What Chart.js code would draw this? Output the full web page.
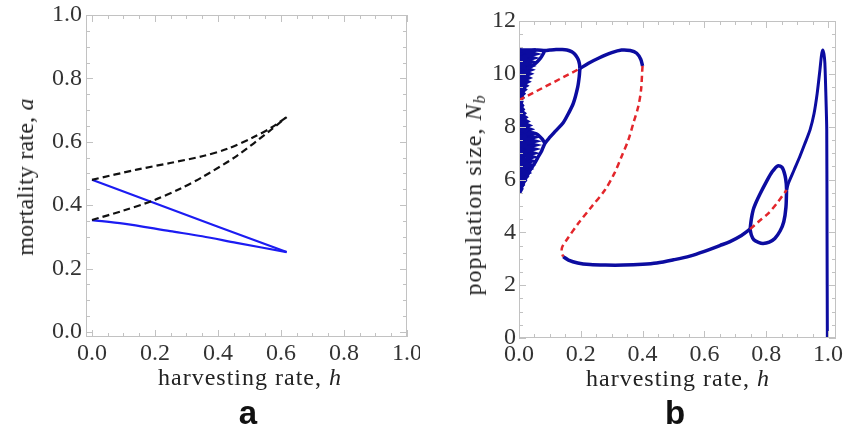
<!DOCTYPE html>
<html>
<head>
<meta charset="utf-8">
<title>Mortality and population size vs harvesting rate</title>
<script src="https://cdn.jsdelivr.net/npm/chart.js@4.4.1/dist/chart.umd.min.js"></script>
<style>
    html, body { margin: 0; padding: 0; background: #fff; }
    #wrap { position: relative; width: 845px; height: 425px; overflow: hidden; font-family: "Liberation Serif", serif; color: #222; }
    .panel { position: absolute; top: 0; height: 425px; }
    #panelA { left: 0; width: 420px; }
    #panelB { left: 420px; width: 425px; }
    .title { position: absolute; white-space: nowrap; font-size: 24px; line-height: 1; letter-spacing: 1px; transform: translate(-50%, -50%); }
    .title.rot { transform: translate(-50%, -50%) rotate(-90deg); }
    .title.tight { letter-spacing: 0.2px; }
    .title sub { font-size: 16px; vertical-align: -4px; line-height: 0; }
    .tag { position: absolute; font-family: "Liberation Sans", Arial, sans-serif; font-weight: bold; font-size: 33px; line-height: 1; transform: translateX(-50%); color: #111; }
</style>
</head>
<body>
<div id="wrap">
    <div class="panel" id="panelA"><canvas id="chartA"></canvas></div>
    <div class="panel" id="panelB"><canvas id="chartB"></canvas></div>
    <div class="title" style="left:250px;top:377px">harvesting rate, <i>h</i></div>
    <div class="title rot tight" style="left:25px;top:177px">mortality rate, <i>a</i></div>
    <div class="title" style="left:678px;top:378px">harvesting rate, <i>h</i></div>
    <div class="title rot" style="left:473px;top:195px">population size, <i>N<sub>b</sub></i></div>
    <div class="tag" style="left:248px;top:396px">a</div>
    <div class="tag" style="left:675px;top:396px">b</div>
</div>
<script>
"use strict";

/* ---------- tick labels ---------- */
const ticksA = [0, 0.2, 0.4, 0.6, 0.8, 1.0];
const ticksBx = [0, 0.2, 0.4, 0.6, 0.8, 1.0];
const ticksBy = [0, 2, 4, 6, 8, 10, 12];

/* ---------- panel a: mortality rate vs harvesting rate ---------- */
const dashUpH = [0, 0.142, 0.248, 0.353, 0.43, 0.512, 0.57, 0.618];
const dashUpA = [0.48, 0.512, 0.533, 0.555, 0.578, 0.614, 0.645, 0.678];
const dashLoH = [0, 0.1, 0.195, 0.28, 0.353, 0.459, 0.565, 0.618];
const dashLoA = [0.353, 0.383, 0.415, 0.452, 0.49, 0.555, 0.635, 0.678];
const solidUpH = [0, 0.2, 0.4, 0.618];
const solidUpA = [0.48, 0.406, 0.332, 0.252];
const solidLoH = [0, 0.1, 0.248, 0.35, 0.459, 0.618];
const solidLoA = [0.353, 0.342, 0.318, 0.302, 0.281, 0.252];

/* ---------- panel b: population size vs harvesting rate ---------- */
// stable upper branch, period-doubling point -> upper fold
const upperH = [0.197, 0.225, 0.257, 0.3, 0.332, 0.36, 0.381, 0.394, 0.4];
const upperN = [10.2, 10.4, 10.59, 10.8, 10.9, 10.88, 10.78, 10.55, 10.3];
// unstable middle branch (S-curve)
const middleH = [0.4, 0.399, 0.395, 0.386, 0.37, 0.354, 0.332, 0.309, 0.278, 0.235, 0.192, 0.154, 0.14, 0.138, 0.143];
const middleN = [10.3, 10.15, 9.39, 8.76, 8.13, 7.5, 6.87, 6.24, 5.6, 4.97, 4.34, 3.71, 3.45, 3.25, 3.08];
// stable lower branch
const lowerH = [0.143, 0.16, 0.19, 0.23, 0.28, 0.338, 0.4, 0.446, 0.5, 0.553, 0.6, 0.65, 0.683, 0.72, 0.748];
const lowerN = [3.08, 2.95, 2.84, 2.78, 2.76, 2.76, 2.79, 2.84, 2.96, 3.1, 3.28, 3.5, 3.65, 3.88, 4.12];
// period-2 loop on the right
const loopTopH = [0.748, 0.752, 0.758, 0.766, 0.78, 0.8, 0.82, 0.838, 0.852, 0.861, 0.865, 0.866];
const loopTopN = [4.12, 4.5, 4.85, 5.1, 5.45, 5.9, 6.3, 6.52, 6.45, 6.15, 5.85, 5.6];
const loopBotH = [0.748, 0.752, 0.76, 0.775, 0.79, 0.81, 0.828, 0.845, 0.857, 0.864, 0.866];
const loopBotN = [4.12, 3.9, 3.72, 3.62, 3.58, 3.63, 3.77, 4.05, 4.4, 4.95, 5.6];
const loopRedH = [0.748, 0.775, 0.807, 0.835, 0.866];
const loopRedN = [4.12, 4.4, 4.72, 5.1, 5.6];
// branch up to the peak and collapse
const rightH = [0.866, 0.872, 0.89, 0.909, 0.925, 0.942, 0.955, 0.965, 0.974, 0.979, 0.983, 0.987, 0.99, 0.993, 0.996, 0.997, 0.998];
const rightN = [5.6, 5.86, 6.35, 6.87, 7.35, 7.88, 8.5, 9.25, 10.15, 10.7, 10.9, 10.75, 10.4, 9.3, 7.9, 4.0, 0.0];
// period-2 branches on the left
const topH = [0.197, 0.196, 0.193, 0.188, 0.18, 0.17, 0.155, 0.14, 0.12, 0.1, 0.085, 0.06, 0.03, 0.0];
const topN = [10.2, 10.35, 10.5, 10.62, 10.75, 10.84, 10.9, 10.92, 10.92, 10.9, 10.88, 10.9, 10.9, 10.9];
const p2LowH = [0.197, 0.195, 0.19, 0.176, 0.16, 0.143, 0.117, 0.1, 0.084, 0.074, 0.063, 0.05, 0.036, 0.022, 0.009, 0.002];
const p2LowN = [10.2, 9.9, 9.5, 8.89, 8.5, 8.15, 7.82, 7.6, 7.37, 7.1, 6.87, 6.6, 6.36, 6.05, 5.73, 5.55];
const redLeftH = [0, 0.197];
const redLeftN = [9.0, 10.2];
// small period-4 loops
const smallLoH = [0.084, 0.076, 0.068, 0.057, 0.046, 0.035, 0.025];
const smallLoN = [7.37, 7.52, 7.62, 7.72, 7.76, 7.75, 7.7];
const smallUpH = [0.082, 0.078, 0.07, 0.06, 0.048, 0.035, 0.025];
const smallUpN = [10.86, 10.75, 10.6, 10.47, 10.35, 10.25, 10.18];
// chaotic cloud near h = 0 (two interleaved traces)
const chaosN = [5.5, 5.65, 5.8, 5.95, 6.1, 6.25, 6.4, 6.55, 6.7, 6.85, 7.0, 7.15, 7.3, 7.45, 7.6, 7.75, 7.9, 8.05, 8.2, 8.35, 8.5, 8.65, 8.8, 8.95, 9.1, 9.25, 9.4, 9.55, 9.7, 9.85, 10.0, 10.15, 10.3, 10.45, 10.6, 10.75, 10.9];
const chaosH1 = [0.001, 0.008, 0.0, 0.017, 0.0, 0.028, 0.002, 0.037, 0.0, 0.043, 0.003, 0.048, 0.0, 0.05, 0.002, 0.042, 0.0, 0.03, 0.002, 0.02, 0.0, 0.012, 0.001, 0.008, 0.0, 0.014, 0.002, 0.022, 0.0, 0.03, 0.003, 0.036, 0.0, 0.04, 0.002, 0.05, 0.0];
const chaosH2 = [0.004, 0.0, 0.012, 0.002, 0.022, 0.0, 0.033, 0.004, 0.04, 0.0, 0.046, 0.003, 0.05, 0.0, 0.047, 0.004, 0.035, 0.0, 0.025, 0.002, 0.016, 0.0, 0.01, 0.0, 0.011, 0.002, 0.018, 0.0, 0.027, 0.002, 0.033, 0.0, 0.038, 0.003, 0.045, 0.0, 0.055];

/* ---------- helpers ---------- */
const BLUE_A = "#1c1cf2";
const NAVY = "#0c0ca0";
const RED = "#e3262b";
Chart.defaults.font.family = "Liberation Serif";
const tickFont = { family: "Liberation Serif", size: 24 };

function pts(xs, ys) { return xs.map((x, i) => ({ x: x, y: ys[i] })); }

function line(xs, ys, color, width, dash, tension) {
    return {
        data: pts(xs, ys), showLine: true, borderColor: color, borderWidth: width,
        borderDash: dash || [], tension: tension === undefined ? 0.3 : tension,
        pointRadius: 0, fill: false
    };
}

function axis(min, max, ticks, fmt, size, pad) {
    return {
        type: "linear", min: min, max: max,
        afterBuildTicks: s => { s.ticks = ticks.map(v => ({ value: v })); },
        afterFit: s => {
            if (s.isHorizontal()) s.height = size; else s.width = size;
            s.paddingLeft = 0; s.paddingRight = 0; s.paddingTop = 0; s.paddingBottom = 0;
        },
        ticks: { callback: fmt, font: tickFont, color: "#333", padding: pad, maxRotation: 0, autoSkip: false },
        grid: { display: false, drawTicks: false },
        border: { display: false }
    };
}

/* frame with inward Mathematica-style tick marks */
const frameTicks = {
    id: "frameTicks",
    afterDatasetsDraw(chart, args, opt) {
        const { ctx, chartArea: a, scales } = chart;
        ctx.save();
        ctx.strokeStyle = "#c2c2c2";
        ctx.lineWidth = 1;
        ctx.strokeRect(a.left + 0.5, a.top + 0.5, a.right - a.left - 1, a.bottom - a.top - 1);
        function marks(scale, minor, major, horiz) {
            const n0 = Math.ceil(scale.min / minor - 1e-6), n1 = Math.floor(scale.max / minor + 1e-6);
            for (let i = n0; i <= n1; i++) {
                const v = i * minor;
                const isMajor = Math.abs(v / major - Math.round(v / major)) < 1e-6;
                const len = isMajor ? 7 : 4;
                const p = Math.round(scale.getPixelForValue(v)) + 0.5;
                ctx.beginPath();
                if (horiz) {
                    ctx.moveTo(p, a.bottom); ctx.lineTo(p, a.bottom - len);
                    ctx.moveTo(p, a.top); ctx.lineTo(p, a.top + len);
                } else {
                    ctx.moveTo(a.left, p); ctx.lineTo(a.left + len, p);
                    ctx.moveTo(a.right, p); ctx.lineTo(a.right - len, p);
                }
                ctx.stroke();
            }
        }
        marks(scales.x, opt.xMinor, opt.xMajor, true);
        marks(scales.y, opt.yMinor, opt.yMajor, false);
        ctx.restore();
    }
};

function baseOptions(padding, xAxis, yAxis, tickOpts) {
    return {
        responsive: true, maintainAspectRatio: false, animation: false,
        layout: { padding: padding },
        plugins: { legend: { display: false }, tooltip: { enabled: false }, frameTicks: tickOpts },
        scales: { x: xAxis, y: yAxis }
    };
}

/* ---------- panel a ---------- */
new Chart(document.getElementById("chartA"), {
    type: "scatter",
    data: {
        datasets: [
            line(dashUpH, dashUpA, "#111", 2.2, [7, 4]),
            line(dashLoH, dashLoA, "#111", 2.2, [7, 4]),
            line(solidUpH, solidUpA, BLUE_A, 2.2, null, 0),
            line(solidLoH, solidLoA, BLUE_A, 2.2)
        ]
    },
    options: baseOptions(
        { left: 0, top: 15, right: 13, bottom: 0 },
        axis(-0.019, 1.0, ticksA, v => v.toFixed(1), 88, 2),
        axis(-0.016, 1.0, ticksA, v => v.toFixed(1), 86, 4),
        { xMinor: 0.05, xMajor: 0.2, yMinor: 0.05, yMajor: 0.2 }
    ),
    plugins: [frameTicks]
});

/* ---------- panel b ---------- */
new Chart(document.getElementById("chartB"), {
    type: "scatter",
    data: {
        datasets: [
            line(redLeftH, redLeftN, RED, 2.5, [6, 4], 0),
            line(middleH, middleN, RED, 2.5, [6, 4]),
            line(loopRedH, loopRedN, RED, 2.5, [6, 4]),
            line(upperH, upperN, NAVY, 3.5),
            line(lowerH, lowerN, NAVY, 3.5),
            line(loopTopH, loopTopN, NAVY, 3.5),
            line(loopBotH, loopBotN, NAVY, 3.5),
            line(rightH, rightN, NAVY, 3, null, 0.2),
            line(topH, topN, NAVY, 3.5),
            line(p2LowH, p2LowN, NAVY, 3.5),
            line(smallLoH, smallLoN, NAVY, 3.5),
            line(smallUpH, smallUpN, NAVY, 3.5),
            line(chaosH1, chaosN, NAVY, 4, null, 0),
            line(chaosH2, chaosN, NAVY, 4, null, 0)
        ]
    },
    options: baseOptions(
        { left: 0, top: 21, right: 9, bottom: 0 },
        axis(0, 1.026, ticksBx, v => v.toFixed(1), 87, 2),
        axis(0, 12, ticksBy, v => String(v), 99, 3),
        { xMinor: 0.05, xMajor: 0.2, yMinor: 0.5, yMajor: 2 }
    ),
    plugins: [frameTicks]
});
</script>
</body>
</html>
